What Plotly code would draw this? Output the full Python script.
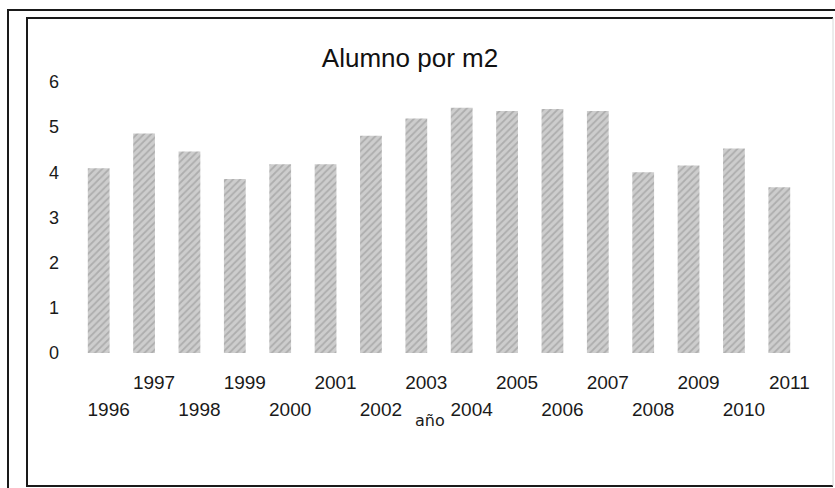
import plotly.graph_objects as go

years = [1996, 1997, 1998, 1999, 2000, 2001, 2002, 2003,
         2004, 2005, 2006, 2007, 2008, 2009, 2010, 2011]
values = [4.09, 4.86, 4.46, 3.85, 4.18, 4.18, 4.81, 5.19,
          5.43, 5.36, 5.40, 5.36, 4.00, 4.15, 4.53, 3.67]
y_ticks = [0, 1, 2, 3, 4, 5, 6]
title_text = "Alumno por m2"
x_title = "año"

odd_years = [y for y in years if y % 2 == 1]
even_years = [y for y in years if y % 2 == 0]

W, H = 835, 488
L, R, T, B = 76, 802, 82, 353  # plot area in pixels


def px(xp):
    return (xp - L) / (R - L)


def py(yp):
    return (B - yp) / (B - T)


fig = go.Figure()
fig.add_trace(go.Bar(
    x=years, y=values,
    marker=dict(
        color="#cdcdcd",
        line=dict(width=0),
        pattern=dict(shape="/", fgcolor="#8e8e8e", size=5, solidity=0.35),
    ),
    showlegend=False,
))

font_fam = "Liberation Sans, Arial, sans-serif"

fig.update_layout(
    width=W, height=H,
    margin=dict(l=L, r=W - R, t=T, b=H - B, pad=0, autoexpand=False),
    paper_bgcolor="white", plot_bgcolor="white",
    bargap=0.52,
    title=dict(text=title_text, x=410 / W, xref="container", xanchor="center",
               y=1 - 58 / H, yref="container", yanchor="middle",
               font=dict(family=font_fam, size=26, color="#111111")),
    xaxis=dict(
        type="linear", range=[years[0] - 0.5, years[-1] + 0.5],
        tickvals=odd_years, ticktext=[str(v) for v in odd_years],
        showgrid=False, zeroline=False, showline=False, ticks="",
        ticklabelshift=10, ticklabelstandoff=16, automargin=False,
        tickfont=dict(family=font_fam, size=19, color="#1a1a1a"),
    ),
    xaxis2=dict(
        type="linear", matches="x", overlaying="x", side="bottom",
        tickvals=even_years, ticktext=[str(v) for v in even_years],
        showgrid=False, zeroline=False, showline=False, ticks="",
        ticklabelshift=10, ticklabelstandoff=43, automargin=False,
        tickfont=dict(family=font_fam, size=19, color="#1a1a1a"),
    ),
    yaxis=dict(
        range=[0, 6], tickvals=y_ticks, ticktext=[str(v) for v in y_ticks],
        showgrid=False, zeroline=False, showline=False, ticks="",
        ticklabelstandoff=16, automargin=False,
        tickfont=dict(family=font_fam, size=18, color="#1a1a1a"),
    ),
)

# invisible trace to activate xaxis2
fig.add_trace(go.Scatter(x=[years[0]], y=[0], xaxis="x2", mode="markers",
                         marker=dict(opacity=0), showlegend=False,
                         hoverinfo="skip"))

fig.add_annotation(text=x_title, xref="paper", yref="paper",
                   x=px(430), y=py(420), showarrow=False,
                   xanchor="center", yanchor="middle",
                   font=dict(family="DejaVu Sans, sans-serif", size=16, color="#1a1a1a"))

# frames
fig.add_shape(type="path", xref="paper", yref="paper",
              path=f"M {px(8)},{py(488)} L {px(8)},{py(10)} L {px(835)},{py(10)}",
              line=dict(color="#1a1a1a", width=2))
fig.add_shape(type="path", xref="paper", yref="paper",
              path=f"M {px(833)},{py(18)} L {px(27)},{py(18)} L {px(27)},{py(486)} L {px(833)},{py(486)}",
              line=dict(color="#1a1a1a", width=2))
fig.add_shape(type="line", xref="paper", yref="paper",
              x0=px(833), x1=px(833), y0=py(18), y1=py(486),
              line=dict(color="#d8d8d8", width=1))

fig.write_html("out.html",
               config={"displayModeBar": False},
               post_script="document.body.style.margin='0';document.body.style.padding='0';")
